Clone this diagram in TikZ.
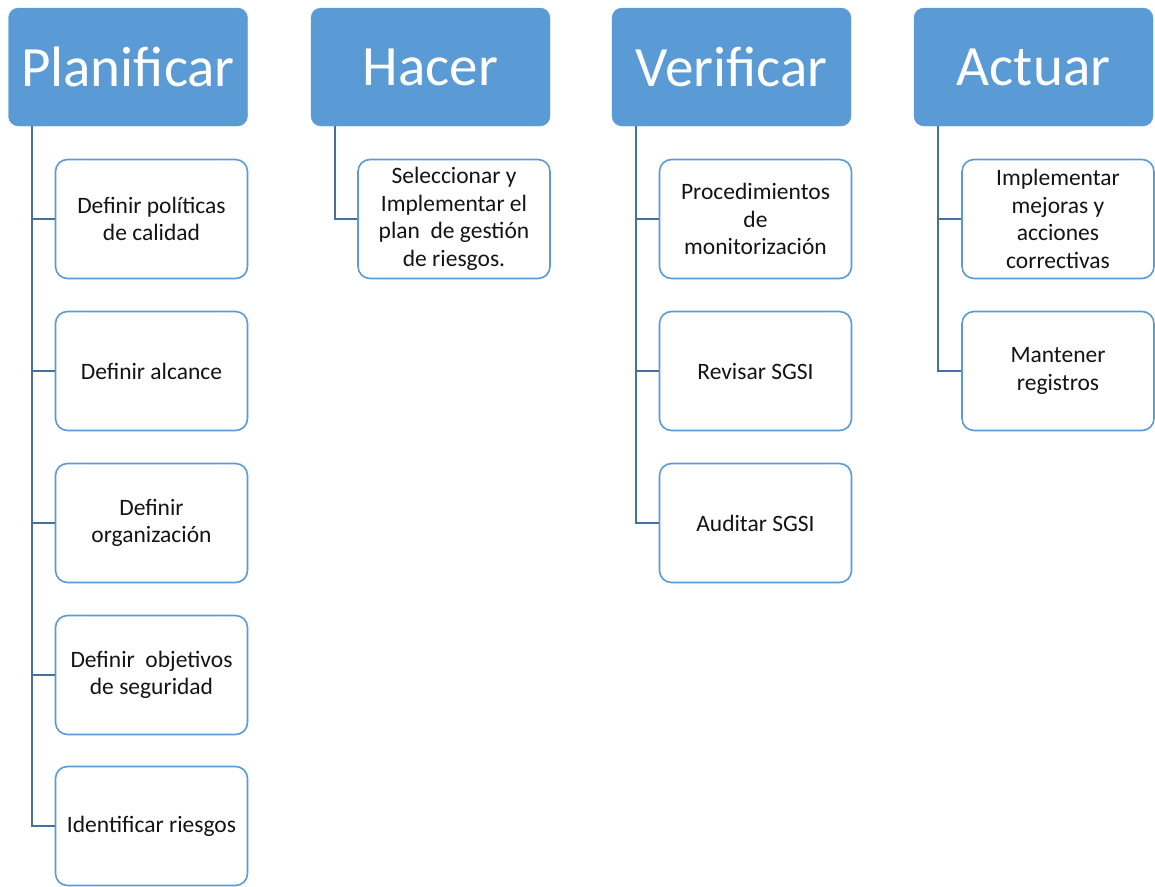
\documentclass[tikz,border=0pt]{standalone}
\usepackage{fontspec}
\setmainfont{Carlito}
\usepackage{xcolor}
\usetikzlibrary{positioning, calc}
\definecolor{HeadBlue}{RGB}{91,155,213}
\definecolor{LineBlue}{RGB}{65,113,156}
\definecolor{TextGrey}{RGB}{20,20,20}

\begin{document}
\begin{tikzpicture}[x=1pt,y=-1pt,
        head/.style={fill=HeadBlue,draw=HeadBlue,rounded corners=10pt,
                     minimum width=239pt,minimum height=118pt,text=white,
                     font=\fontsize{57}{66}\selectfont,inner sep=0pt},
        sbox/.style={draw=HeadBlue,fill=white,line width=1.6pt,rounded corners=12pt,
                     minimum width=192pt,minimum height=119pt,align=center,
                     text=TextGrey,font=\fontsize{23.5}{27.5}\selectfont,inner sep=2pt},
        conn/.style={LineBlue,line width=1.8pt}
      ]
        \useasboundingbox (0,0) rectangle (1155,886);
        % column headers
        \node[head] (plan) at (128,67)   {Planificar};
        \node[head] (hace) at (430.5,67) {Hacer};
        \node[head] (veri) at (731.5,67) {Verificar};
        \node[head] (actu) at (1033.5,67) {Actuar};
        % Planificar
        \node[sbox] (plan1) at (151.5,219) {Definir políticas\\de calidad};
        \node[sbox] (plan2) at (151.5,371) {Definir alcance};
        \node[sbox] (plan3) at (151.5,523) {Definir\\organización};
        \node[sbox] (plan4) at (151.5,675) {Definir\ \ objetivos\\de seguridad};
        \node[sbox] (plan5) at (151.5,826) {Identificar riesgos};
        % Hacer
        \node[sbox] (hace1) at (454,219) {Seleccionar y\\Implementar el\\plan\ \ de gestión\\de riesgos.};
        % Verificar
        \node[sbox] (veri1) at (755.5,219) {Procedimientos\\de\\monitorización};
        \node[sbox] (veri2) at (755.5,371) {Revisar SGSI};
        \node[sbox] (veri3) at (755.5,523) {Auditar SGSI};
        % Actuar
        \node[sbox] (actu1) at (1058,219) {Implementar\\mejoras y\\acciones\\correctivas};
        \node[sbox] (actu2) at (1058,371) {Mantener\\registros};
        % connectors
        \foreach \p/\c in {plan/plan1,plan/plan2,plan/plan3,plan/plan4,plan/plan5,
                           hace/hace1,veri/veri1,veri/veri2,veri/veri3,actu/actu1,actu/actu2}
          \draw[conn] ([xshift=24pt]\p.south west) |- (\c.west);
      \end{tikzpicture}
\end{document}
